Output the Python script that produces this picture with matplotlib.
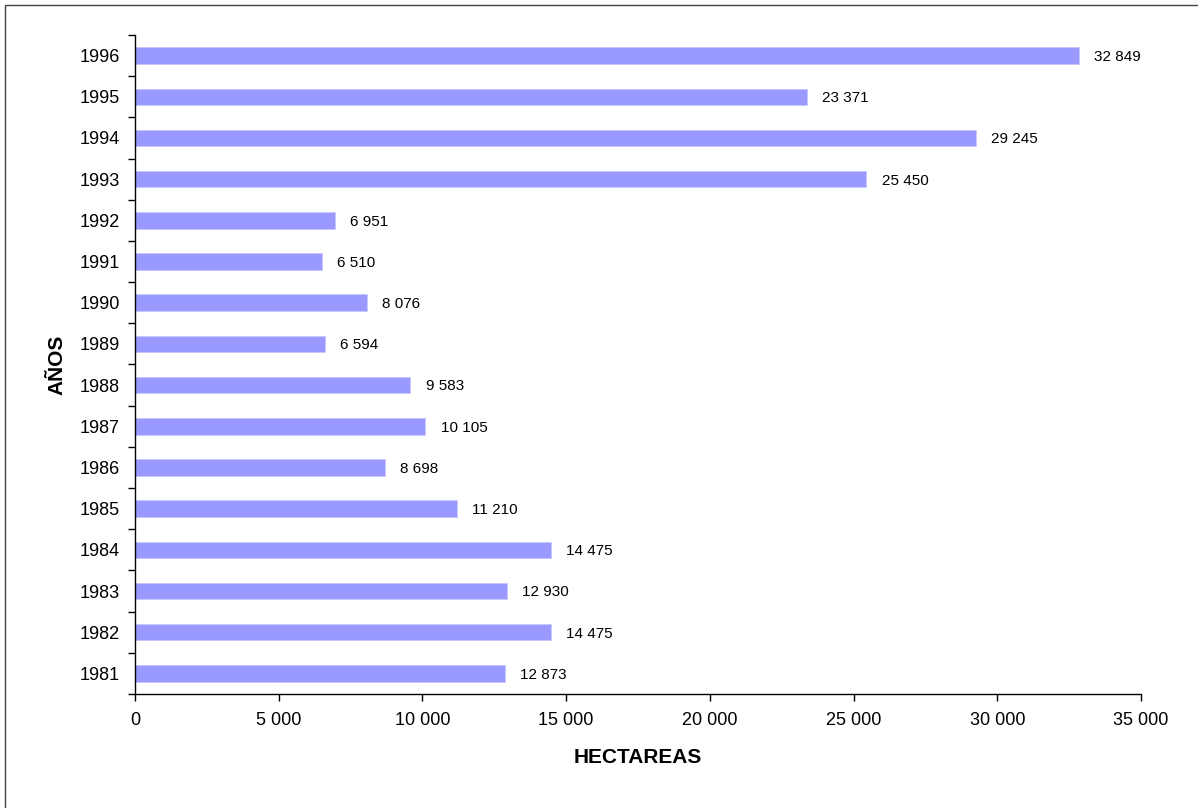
import matplotlib
matplotlib.use("Agg")
import matplotlib.pyplot as plt
from matplotlib.patches import Rectangle
from matplotlib.ticker import FuncFormatter, MultipleLocator

years = [1981, 1982, 1983, 1984, 1985, 1986, 1987, 1988,
         1989, 1990, 1991, 1992, 1993, 1994, 1995, 1996]
hectares = [12873, 14475, 12930, 14475, 11210, 8698, 10105, 9583,
            6594, 8076, 6510, 6951, 25450, 29245, 23371, 32849]


def spaced(v):
    return f"{int(v):,}".replace(",", " ")


plt.rcParams["font.family"] = ["Liberation Sans", "DejaVu Sans"]

fig = plt.figure(figsize=(11.98, 8.08), dpi=100)
ax = fig.add_axes([0.1127, 0.1411, 0.9524 - 0.1127, 0.9567 - 0.1411])

pos = list(range(len(years)))
ax.barh(pos, hectares, height=0.4, color="#9999FF", edgecolor="#C8C8FF", linewidth=0.6)
for p, v in zip(pos, hectares):
    ax.annotate(spaced(v), (v, p), xytext=(11, -1), textcoords="offset points",
                va="center", ha="left", fontsize=11)

ax.set_xlim(0, 35000)
ax.set_ylim(-0.5, len(years) - 0.5)
ax.xaxis.set_major_locator(MultipleLocator(5000))
ax.xaxis.set_major_formatter(FuncFormatter(lambda v, _: spaced(v)))
ax.set_yticks(pos)
ax.set_yticklabels([str(y) for y in years])
ax.set_yticks([p - 0.5 for p in pos] + [len(years) - 0.5], minor=True)
ax.tick_params(axis="y", which="major", length=0, pad=11, labelsize=13)
ax.tick_params(axis="y", which="minor", length=5, width=1)
ax.tick_params(axis="x", length=5, width=1, labelsize=13, pad=8)

for s in ["top", "right"]:
    ax.spines[s].set_visible(False)
for s in ["left", "bottom"]:
    ax.spines[s].set_linewidth(1)

ax.set_xlabel("HECTAREAS", fontsize=15, fontweight="bold", labelpad=14)
ax.set_ylabel("AÑOS", fontsize=15, fontweight="bold", labelpad=9)

fig.patches.append(Rectangle((5 / 1198, -0.5), 2, 1.5 - 5 / 808, transform=fig.transFigure,
                             fill=False, edgecolor="#444444", linewidth=1))

fig.savefig("out.png", dpi=100)
